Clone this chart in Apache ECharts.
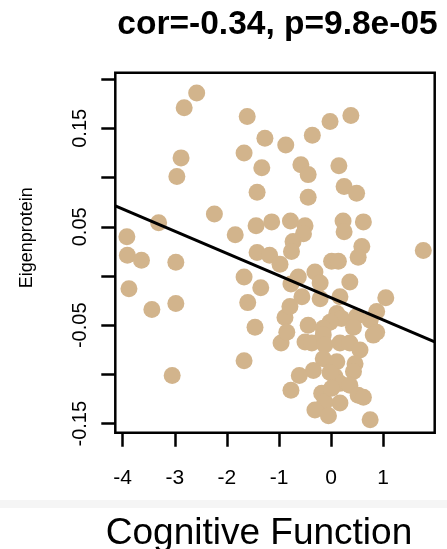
<!DOCTYPE html>
<html><head><meta charset="utf-8">
<script src="https://cdn.jsdelivr.net/npm/echarts@6/dist/echarts.min.js"></script>
<style>html,body{margin:0;padding:0;background:#fff}#c{width:447px;height:549px}</style>
</head><body><div id="c"></div>
<script>
const cognitive = [
-2.58,-2.82,-1.61,-1.27,-0.87,-2.88,-1.67,-1.33,-2.96,-1.42,
-2.24,-3.31,-3.92,-1.84,-1.44,-1.14,-3.91,-3.64,-2.98,-1.42,
-1.18,-3.88,-3.44,-2.98,-1.67,-1.35,-1.60,-1.46,-0.885,-0.96,
-1.67,-3.05,0.38,-0.02,-0.36,-0.58,-0.44,0.15,0.25,0.49,
-0.44,-0.78,-0.50,-0.53,0.23,0.25,0.62,-0.73,-0.76,1.77,
0.59,0.52,-0.98,0.01,0.14,-0.63,-0.31,-0.21,-0.77,0.36,
-0.56,-0.21,0.17,1.05,-0.79,0.11,0.20,-0.02,0.49,0.875,
0.75,-0.44,-0.15,-0.85,0.43,0.875,-0.50,-0.37,-0.15,-0.12,
0.17,0.36,0.555,0.81,0.46,-0.15,0.11,-0.34,-0.61,0.43,
0.075,0.17,0.36,-0.77,-0.18,0.52,0.62,0.17,-0.12,-0.31,
-0.05,0.75,-0.02,0.01
];
const eigenprotein = [
0.186,0.171,0.162,0.140,0.133,0.120,0.125,0.110,0.101,0.085,
0.063,0.054,0.040,0.042,0.051,0.055,0.021,0.016,0.014,0.024,
0.021,-0.013,-0.034,-0.028,-0.001,-0.012,-0.027,-0.052,-0.042,-0.068,
-0.086,-0.101,0.163,0.157,0.143,0.113,0.103,0.112,0.091,0.084,
0.080,0.056,0.051,0.043,0.056,0.045,0.055,0.035,0.025,0.026,
0.030,0.019,0.012,0.015,0.015,-0.001,0.004,-0.007,-0.008,-0.006,
-0.021,-0.023,-0.021,-0.022,-0.031,-0.038,-0.043,-0.047,-0.041,-0.036,
-0.045,-0.050,-0.053,-0.057,-0.052,-0.057,-0.067,-0.068,-0.060,-0.070,
-0.068,-0.068,-0.075,-0.060,-0.089,-0.084,-0.087,-0.096,-0.101,-0.097,
-0.102,-0.109,-0.111,-0.116,-0.119,-0.121,-0.123,-0.129,-0.128,-0.136,
-0.142,-0.146,-0.098,-0.114
];
const xTicks = [-4, -3, -2, -1, 0, 1];
const yTicks = [-0.15, -0.10, -0.05, 0, 0.05, 0.10, 0.15, 0.20];
const yTickLabels = [-0.15, -0.05, 0.05, 0.15];
const fitIntercept = -0.022;
const fitSlope = -0.0225;
const xRange = [-4.142, 1.989];
const yRange = [-0.1591, 0.2065];
const titleText = 'cor=-0.34, p=9.8e-05';
const xName = 'Cognitive Function';
const yName = 'Eigenprotein';

const pts = cognitive.map((x, i) => [x, eigenprotein[i]]);
const fitLine = xRange.map(x => [x, fitIntercept + fitSlope * x]);
const FONT = '"Liberation Sans", Arial, Helvetica, sans-serif';

const chart = echarts.init(document.getElementById('c'), null, {renderer: 'canvas'});
chart.setOption({
  animation: false,
  backgroundColor: '#fff',
  grid: {left: 115.3, right: 12.3, top: 72.7, bottom: 116.3, show: true,
         borderColor: '#000', borderWidth: 2.5, backgroundColor: 'transparent'},
  xAxis: {
    type: 'value', min: xRange[0], max: xRange[1],
    axisLine: {show: false, onZero: false},
    splitLine: {show: false},
    axisTick: {show: true, customValues: xTicks, length: 14, inside: false,
               lineStyle: {color: '#000', width: 2.5}},
    axisLabel: {show: true, customValues: xTicks, margin: 35, color: '#000',
                fontSize: 21, fontFamily: FONT}
  },
  yAxis: {
    type: 'value', min: yRange[0], max: yRange[1],
    axisLine: {show: false, onZero: false},
    splitLine: {show: false},
    axisTick: {show: true, customValues: yTicks, length: 14, inside: false,
               lineStyle: {color: '#000', width: 2.5}},
    axisLabel: {show: true, customValues: yTickLabels, margin: 25, rotate: 90,
                color: '#000', fontSize: 20, fontFamily: FONT,
                formatter: v => v.toFixed(2)}
  },
  series: [
    {type: 'scatter', data: pts, symbol: 'circle', symbolSize: 17,
     itemStyle: {color: '#D2B48C', opacity: 1}, z: 2, silent: true},
    {type: 'line', data: fitLine, showSymbol: false, symbol: 'none',
     lineStyle: {color: '#000', width: 3}, z: 3, silent: true}
  ],
  graphic: [
    {type: 'rect', shape: {x: 0, y: 500, width: 447, height: 8},
     style: {fill: '#f5f5f5'}, z: -1},
    {type: 'text', x: 277.5, y: 25, style: {text: titleText, fill: '#000',
     font: 'bold 33.5px ' + FONT, textAlign: 'center', textVerticalAlign: 'middle'}},
    {type: 'text', x: 259, y: 534, style: {text: xName, fill: '#000',
     font: '37px ' + FONT, textAlign: 'center', textVerticalAlign: 'middle'}},
    {type: 'text', x: 26.7, y: 237.7, rotation: Math.PI / 2, style: {text: yName, fill: '#000',
     font: '18px ' + FONT, textAlign: 'center', textVerticalAlign: 'middle'}}
  ]
});
</script>
</body></html>
